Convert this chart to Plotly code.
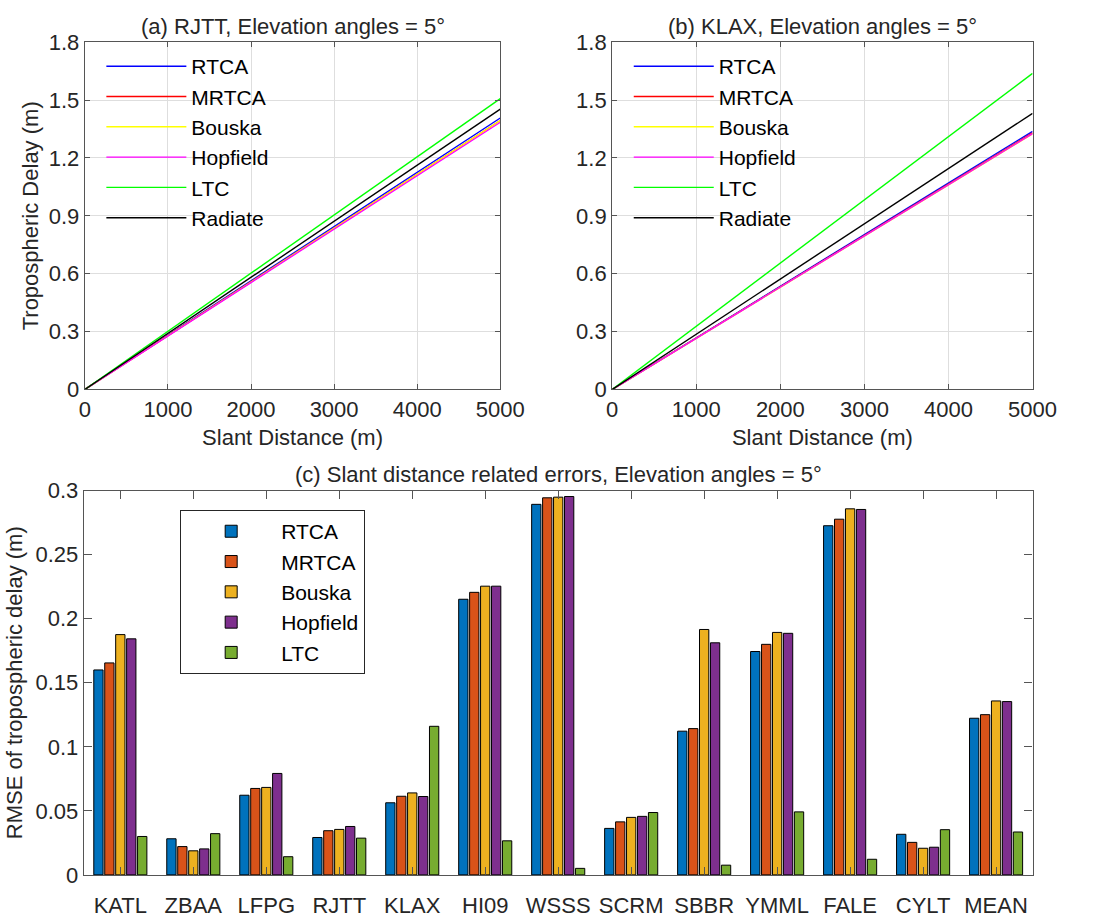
import plotly.graph_objects as go

# ---------------- data ----------------
slant_distance = [0, 1000, 2000, 3000, 4000, 5000]

model_names = ["RTCA", "MRTCA", "Bouska", "Hopfield", "LTC", "Radiate"]
line_colors = ["#0000ff", "#ff0000", "#ffff00", "#ff00ff", "#00ff00", "#000000"]

rjtt_rtca = [0, 0.281, 0.563, 0.844, 1.126, 1.407]
rjtt_mrtca = [0, 0.279, 0.558, 0.836, 1.115, 1.394]
rjtt_bouska = [0, 0.279, 0.557, 0.836, 1.114, 1.393]
rjtt_hopfield = [0, 0.277, 0.554, 0.831, 1.108, 1.385]
rjtt_ltc = [0, 0.301, 0.603, 0.904, 1.206, 1.507]
rjtt_radiate = [0, 0.291, 0.581, 0.872, 1.162, 1.453]

klax_rtca = [0, 0.268, 0.535, 0.803, 1.070, 1.338]
klax_mrtca = [0, 0.266, 0.532, 0.798, 1.064, 1.330]
klax_bouska = [0, 0.265, 0.530, 0.795, 1.060, 1.325]
klax_hopfield = [0, 0.265, 0.530, 0.796, 1.061, 1.326]
klax_ltc = [0, 0.328, 0.655, 0.983, 1.310, 1.638]
klax_radiate = [0, 0.286, 0.572, 0.859, 1.145, 1.431]

stations = ["KATL", "ZBAA", "LFPG", "RJTT", "KLAX", "HI09", "WSSS",
            "SCRM", "SBBR", "YMML", "FALE", "CYLT", "MEAN"]
bar_names = ["RTCA", "MRTCA", "Bouska", "Hopfield", "LTC"]
bar_colors = ["#0072BD", "#D95319", "#EDB120", "#7E2F8E", "#77AC30"]

rmse_rtca = [0.160, 0.0282, 0.0622, 0.0292, 0.0563, 0.2152, 0.2893,
             0.0363, 0.1122, 0.1744, 0.2726, 0.0317, 0.1223]
rmse_mrtca = [0.1655, 0.0221, 0.0675, 0.0345, 0.0614, 0.2206, 0.2944,
              0.0414, 0.1142, 0.1800, 0.2777, 0.0254, 0.1251]
rmse_bouska = [0.1876, 0.0188, 0.0683, 0.0355, 0.0640, 0.2254, 0.2949,
               0.0449, 0.1916, 0.1893, 0.2858, 0.0208, 0.1358]
rmse_hopfield = [0.1843, 0.0203, 0.0792, 0.0378, 0.0612, 0.2254, 0.2954,
                 0.0457, 0.1812, 0.1886, 0.2853, 0.0216, 0.1353]
rmse_ltc = [0.0300, 0.0322, 0.0142, 0.0287, 0.1160, 0.0266, 0.0051,
            0.0487, 0.0076, 0.0492, 0.0122, 0.0353, 0.0335]

# ---------------- figure ----------------
W, H = 1113, 920
FONT = "Arial, Liberation Sans, sans-serif"
FS = 22
TXT = "#262626"
AXC = "#555555"
GRID = "#dedede"

fig = go.Figure()

rjtt_series = [rjtt_rtca, rjtt_mrtca, rjtt_bouska, rjtt_hopfield, rjtt_ltc, rjtt_radiate]
klax_series = [klax_rtca, klax_mrtca, klax_bouska, klax_hopfield, klax_ltc, klax_radiate]

for name, col, ys in zip(model_names, line_colors, rjtt_series):
    fig.add_trace(go.Scatter(x=slant_distance, y=ys, mode="lines", name=name,
                             line=dict(color=col, width=1.4),
                             xaxis="x", yaxis="y", legend="legend",
                             legendgroup="a" + name))
for name, col, ys in zip(model_names, line_colors, klax_series):
    fig.add_trace(go.Scatter(x=slant_distance, y=ys, mode="lines", name=name,
                             line=dict(color=col, width=1.4),
                             xaxis="x2", yaxis="y2", legend="legend2",
                             legendgroup="b" + name))

bar_series = [rmse_rtca, rmse_mrtca, rmse_bouska, rmse_hopfield, rmse_ltc]
for name, col, ys in zip(bar_names, bar_colors, bar_series):
    fig.add_trace(go.Bar(x=stations, y=ys, name=name,
                         marker=dict(color=col, line=dict(color="#000000", width=1)),
                         xaxis="x3", yaxis="y3", legend="legend3",
                         legendgroup="c" + name))

def px_x(p):
    return p / W

def px_y(p):
    return 1 - p / H

common_axis = dict(showline=True, linecolor=AXC, linewidth=1.2, mirror="allticks",
                   ticks="inside", tickcolor=AXC, zeroline=False,
                   tickfont=dict(family=FONT, size=FS, color=TXT),
                   title_font=dict(family=FONT, size=FS, color=TXT))

legend_font = dict(family=FONT, size=21, color="#000000")

fig.update_layout(
    width=W, height=H,
    margin=dict(l=0, r=0, t=0, b=0),
    paper_bgcolor="white", plot_bgcolor="white",
    font=dict(family=FONT, size=FS, color=TXT),
    barmode="group", bargap=0.25, bargroupgap=0.15,
    xaxis=dict(domain=[px_x(81), px_x(508)], anchor="y", range=[0, 5000], dtick=1000,
               showgrid=True, gridcolor=GRID, ticklen=5,
               title=dict(text="Slant Distance (m)", standoff=8), **common_axis),
    yaxis=dict(domain=[px_y(388), px_y(31)], anchor="x", range=[0, 1.8], dtick=0.3,
               showgrid=True, gridcolor=GRID, ticklen=5,
               title=dict(text="Tropospheric Delay (m)", standoff=4), **common_axis),
    xaxis2=dict(domain=[px_x(623), px_x(1055)], anchor="y2", range=[0, 5000], dtick=1000,
                showgrid=True, gridcolor=GRID, ticklen=5,
                title=dict(text="Slant Distance (m)", standoff=8), **common_axis),
    yaxis2=dict(domain=[px_y(388), px_y(31)], anchor="x2", range=[0, 1.8], dtick=0.3,
                showgrid=True, gridcolor=GRID, ticklen=5, **common_axis),
    xaxis3=dict(domain=[px_x(80), px_x(1055)], anchor="y3", range=[-0.5, 12.5],
                showgrid=False, ticklen=8, ticklabelstandoff=11, **common_axis),
    yaxis3=dict(domain=[px_y(887), px_y(492)], anchor="x3", range=[0, 0.3], dtick=0.05,
                showgrid=False, ticklen=8,
                title=dict(text="RMSE of tropospheric delay (m)", standoff=6), **common_axis),
    legend=dict(x=px_x(98), y=px_y(35), xanchor="left", yanchor="top",
                bgcolor="rgba(255,255,255,0)", borderwidth=0, itemwidth=80,
                tracegroupgap=0, font=legend_font),
    legend2=dict(x=px_x(640), y=px_y(35), xanchor="left", yanchor="top",
                 bgcolor="rgba(255,255,255,0)", borderwidth=0, itemwidth=80,
                 tracegroupgap=0, font=legend_font),
    legend3=dict(x=px_x(179), y=px_y(512), xanchor="left", yanchor="top",
                 bgcolor="white", bordercolor="#262626", borderwidth=1, itemwidth=90,
                 tracegroupgap=0, font=legend_font),
    annotations=[
        dict(text="(a) RJTT, Elevation angles = 5°", x=(px_x(81) + px_x(508)) / 2,
             y=px_y(15), xref="paper", yref="paper", showarrow=False,
             font=dict(family=FONT, size=FS, color=TXT), xanchor="center", yanchor="middle"),
        dict(text="(b) KLAX, Elevation angles = 5°", x=(px_x(623) + px_x(1055)) / 2,
             y=px_y(15), xref="paper", yref="paper", showarrow=False,
             font=dict(family=FONT, size=FS, color=TXT), xanchor="center", yanchor="middle"),
        dict(text="(c) Slant distance related errors, Elevation angles = 5°",
             x=(px_x(80) + px_x(1055)) / 2, y=px_y(475), xref="paper", yref="paper",
             showarrow=False, font=dict(family=FONT, size=FS, color=TXT),
             xanchor="center", yanchor="middle"),
    ],
)

fig.write_html("out.html")
